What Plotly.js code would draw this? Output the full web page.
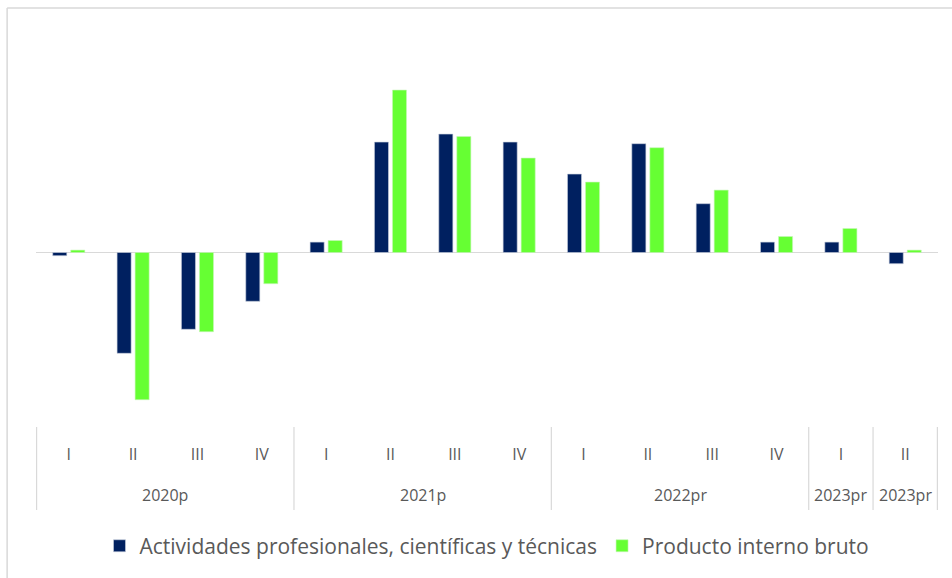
<!DOCTYPE html>
<html>
<head>
<meta charset="utf-8">
<script src="https://cdn.plot.ly/plotly-3.0.1.min.js"></script>
<style>
  html, body { margin: 0; padding: 0; background: #ffffff; }
  #chart { width: 952px; height: 578px; }
</style>
</head>
<body>
<div id="chart"></div>
<script>
// Category levels (the two 2023 quarters form separate groups in the source chart)
const years = ["2020p","2020p","2020p","2020p","2021p","2021p","2021p","2021p","2022pr","2022pr","2022pr","2022pr","2023pr","2023pr\u200b"];
const quarters = ["I","II","III","IV","I","II","III","IV","I","II","III","IV","I","II"];

// Series (annual % change)
const seriesNames = ["Actividades profesionales, científicas y técnicas", "Producto interno bruto"];
const actividades = [-0.4, -12.6, -9.6, -6.1, 1.3, 13.8, 14.8, 13.8, 9.8, 13.6, 6.1, 1.3, 1.3, -1.4];
const pib = [0.3, -18.4, -9.9, -3.9, 1.5, 20.3, 14.5, 11.8, 8.8, 13.1, 7.8, 2.0, 3.0, 0.3];

const FONT = "Open Sans, Roboto, sans-serif";
const TXT = "#595959";
const GRID = "#d9d9d9";

const cats = years.map((y, i) => y + " " + quarters[i]);

// Year groups = consecutive runs of the same year label
const groups = [];
years.forEach((y, i) => {
  if (!groups.length || groups[groups.length - 1].label !== y) groups.push({ label: y, start: i, end: i });
  else groups[groups.length - 1].end = i;
});

const yLabelPaper = -0.171;
const dividerBottom = -0.209;

const annotations = groups.map(g => ({
  xref: "x", yref: "paper", x: (g.start + g.end) / 2, y: yLabelPaper,
  text: g.label, showarrow: false, xanchor: "center", yanchor: "middle",
  font: { family: FONT, size: 16, color: TXT }
}));

const shapes = [];
groups.forEach(g => {
  shapes.push({ type: "line", xref: "x", yref: "paper", x0: g.start - 0.5, x1: g.start - 0.5, y0: 0, y1: dividerBottom, line: { color: GRID, width: 1.2 } });
});
const last = groups[groups.length - 1];
shapes.push({ type: "line", xref: "x", yref: "paper", x0: last.end + 0.5, x1: last.end + 0.5, y0: 0, y1: dividerBottom, line: { color: GRID, width: 1.2 } });
// chart frame (top and left edges visible)
shapes.push({ type: "line", xref: "paper", yref: "paper", x0: -0.032, x1: 1.02, y0: 1.0554, y1: 1.0554, line: { color: GRID, width: 1.5 } });
shapes.push({ type: "line", xref: "paper", yref: "paper", x0: -0.032, x1: -0.032, y0: 1.0554, y1: -0.40, line: { color: GRID, width: 1.5 } });

const traces = [
  {
    type: "bar", name: seriesNames[0], x: cats, y: actividades,
    marker: { color: "#002060", line: { color: "#c9d0de", width: 0.6 } },
    hoverinfo: "y"
  },
  {
    type: "bar", name: seriesNames[1], x: cats, y: pib,
    marker: { color: "#66FF33", line: { color: "#c8f5b8", width: 0.6 } },
    hoverinfo: "y"
  }
];

const layout = {
  width: 952, height: 578,
  margin: { l: 36, r: 14, t: 30, b: 151 },
  paper_bgcolor: "#ffffff", plot_bgcolor: "#ffffff",
  barmode: "group", bargap: 0.44, bargroupgap: 0.22,
  showlegend: true,
  font: { family: FONT, color: TXT, size: 15 },
  xaxis: {
    type: "category", tickmode: "array", tickvals: cats, ticktext: quarters,
    showgrid: false, zeroline: false, showline: false, ticks: "",
    ticklabelstandoff: 16,
    tickfont: { family: FONT, size: 16, color: TXT },
    fixedrange: true
  },
  yaxis: {
    range: [-21.81, 27.81],
    showgrid: false, showticklabels: false, ticks: "",
    zeroline: true, zerolinecolor: GRID, zerolinewidth: 1.5,
    showline: false, fixedrange: true
  },
  legend: {
    orientation: "h", x: 0.5, xanchor: "center", y: -0.30, yanchor: "middle",
    font: { family: FONT, size: 21, color: TXT },
    itemwidth: 30, tracegroupgap: 0
  },
  annotations: annotations,
  shapes: shapes
};

Plotly.newPlot("chart", traces, layout, { staticPlot: true, displayModeBar: false });
</script>
</body>
</html>
